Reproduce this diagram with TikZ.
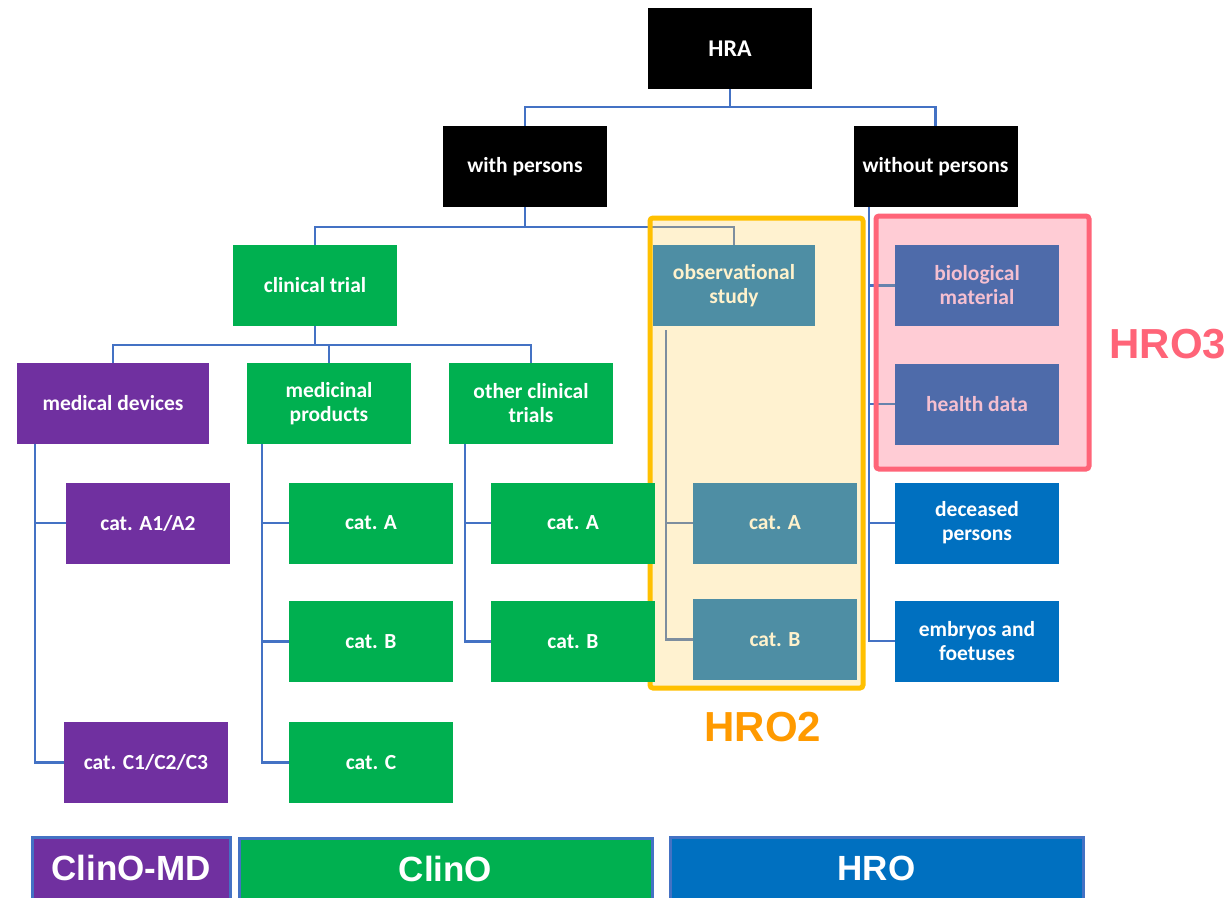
\documentclass[tikz,border=0pt]{standalone}
\usepackage{fontspec}
\usetikzlibrary{calc}
\setmainfont{Carlito}
\newfontfamily\arialf{Liberation Sans}
\definecolor{cblack}{HTML}{000000}
\definecolor{cpurple}{HTML}{7030A0}
\definecolor{cgreen}{HTML}{00B050}
\definecolor{cteal}{HTML}{4E8EA4}
\definecolor{cslate}{HTML}{4E6BAA}
\definecolor{cblue}{HTML}{0070C0}
\definecolor{cline}{HTML}{4472C4}
\definecolor{cgrayline}{HTML}{7E8E9E}
\definecolor{ccream}{HTML}{FFF2CC}
\definecolor{cpinktext}{HTML}{F5BFD0}
\definecolor{cyellow}{HTML}{FFC000}
\definecolor{cyellowfill}{HTML}{FFF2D0}
\definecolor{cred}{HTML}{FF6478}
\definecolor{credfill}{HTML}{FFCCD5}
\definecolor{corange}{HTML}{FF9A00}
\pgfdeclarelayer{lconn}
\pgfdeclarelayer{lfill}
\pgfdeclarelayer{lborder}
\pgfsetlayers{lfill,lconn,lborder,main}
\tikzset{
  box/.style={rectangle, minimum width=164pt, minimum height=81pt, inner sep=0pt,
    text=white, align=center, font=\fontsize{21.5}{24}\selectfont\bfseries},
  conn/.style={draw=cline, line width=2.4pt},
  gconn/.style={draw=cgrayline, line width=2.4pt},
  bottombox/.style={rectangle, draw=cline, line width=3pt, inner sep=0pt, minimum height=62pt,
    text=white, font=\arialf\bfseries\fontsize{35}{35}\selectfont},
  hrolabel/.style={font=\arialf\bfseries\fontsize{42}{42}\selectfont, inner sep=0pt}
}
\begin{document}
\begin{tikzpicture}[x=1pt,y=-1pt]
\useasboundingbox (0,0) rectangle (1229,897);
% nodes
\node[box, fill=cblack, font=\fontsize{24}{26}\selectfont\bfseries] (hra) at (730,48.5) {HRA};
\node[box, fill=cblack] (with) at (525,166.5) {with persons};
\node[box, fill=cblack] (without) at (935.5,166.5) {without persons};
\node[box, fill=cgreen] (ct) at (315,285.5) {clinical trial};
\node[box, fill=cteal, text=ccream, minimum width=162pt] (obs) at (734,285.5) {observational\\study};
\node[box, fill=cpurple, minimum width=192pt] (md) at (113,403.5) {medical devices};
\node[box, fill=cgreen] (mp) at (329,403.5) {medicinal\\products};
\node[box, fill=cgreen] (oct) at (531,403.5) {other clinical\\trials};
\node[box, fill=cpurple] (mda) at (148,523) {cat. A1/A2};
\node[box, fill=cpurple] (mdc) at (146,762.5) {cat. C1/C2/C3};
\node[box, fill=cgreen] (mpa) at (371,523) {cat. A};
\node[box, fill=cgreen] (mpb) at (371,641.5) {cat. B};
\node[box, fill=cgreen] (mpc) at (371,762.5) {cat. C};
\node[box, fill=cgreen] (octa) at (573,523) {cat. A};
\node[box, fill=cgreen] (octb) at (573,641.5) {cat. B};
\node[box, fill=cteal, text=ccream] (obsa) at (775,523) {cat. A};
\node[box, fill=cteal, text=ccream] (obsb) at (775,639.5) {cat. B};
\node[box, fill=cslate, text=cpinktext] (bio) at (977,285.5) {biological\\material};
\node[box, fill=cslate, text=cpinktext] (hd) at (977,404) {health data};
\node[box, fill=cblue] (dec) at (977,523) {deceased\\persons};
\node[box, fill=cblue] (emb) at (977,641) {embryos and\\foetuses};
% labels
\node[hrolabel, text=corange] (hro2) at (763,727) {HRO2};
\node[hrolabel, text=cred] (hro3) at (1168,344) {HRO3};
% bottom boxes
\node[bottombox, fill=cpurple, minimum width=198pt] (bmd) at (131,868) {ClinO-MD};
\node[bottombox, fill=cgreen, minimum width=413pt] (bclino) at (445.5,869) {ClinO};
\node[bottombox, fill=cblue, minimum width=413pt] (bhro) at (876.5,868) {HRO};
% helper coordinates
\coordinate (j1) at ($(hra.south)+(0,18)$);
\coordinate (j2) at ($(with.south)+(0,20)$);
\coordinate (j3) at ($(ct.south)+(0,19)$);
\coordinate (tmd) at ($(md.south)+(-78,0)$);
\coordinate (tmp) at ($(mp.south)+(-67,0)$);
\coordinate (toct) at ($(oct.south)+(-66,0)$);
\coordinate (tobs) at ($(obs.south)+(-68,4)$);
\coordinate (two) at ($(without.south)+(-66.5,0)$);
% region boxes
\begin{pgfonlayer}{lfill}
  \fill[white] (0,0) rectangle (1229,897);
  \fill[cyellowfill, rounded corners=3pt] (650,218) rectangle (863,688);
  \fill[credfill, rounded corners=3pt] (876,216) rectangle (1089,469);
\end{pgfonlayer}
\begin{pgfonlayer}{lconn}
  \draw[conn] (hra.south) -- (j1);
  \draw[conn] (with.north) |- (j1) -| (without.north);
  \draw[conn] (with.south) -- (j2);
  \draw[conn] (ct.north) |- (j2) -| (obs.north);
  \draw[conn] (ct.south) -- (j3);
  \draw[conn] (md.north) |- (j3) -| (oct.north);
  \draw[conn] (mp.north) -- (mp.north |- j3);
  \draw[conn] (tmd) |- (mda.west);
  \draw[conn] (tmd) |- (mdc.west);
  \draw[conn] (tmp) |- (mpa.west);
  \draw[conn] (tmp) |- (mpb.west);
  \draw[conn] (tmp) |- (mpc.west);
  \draw[conn] (toct) |- (octa.west);
  \draw[conn] (toct) |- (octb.west);
  \draw[conn] (two) |- (bio.west);
  \draw[conn] (two) |- (hd.west);
  \draw[conn] (two) |- (dec.west);
  \draw[conn] (two) |- (emb.west);
\end{pgfonlayer}
\begin{pgfonlayer}{lborder}
  \begin{scope}
    \clip (650,218) rectangle (863,688);
    \draw[gconn] (ct.north) |- (j2) -| (obs.north);
  \end{scope}
  \draw[gconn] (tobs) |- (obsa.west);
  \draw[gconn] (tobs) |- (obsb.west);
  \begin{scope}
    \clip (876,216) rectangle (1089,469);
    \draw[conn, draw=cgrayline!60!cline] (two) |- (bio.west);
    \draw[conn, draw=cgrayline!60!cline] (two) |- (hd.west);
  \end{scope}
  \draw[cyellow, line width=5pt, rounded corners=3pt] (650,218) rectangle (863,688);
  \draw[cred, line width=5pt, rounded corners=3pt] (876,216) rectangle (1089,469);
\end{pgfonlayer}
\end{tikzpicture}
\end{document}
